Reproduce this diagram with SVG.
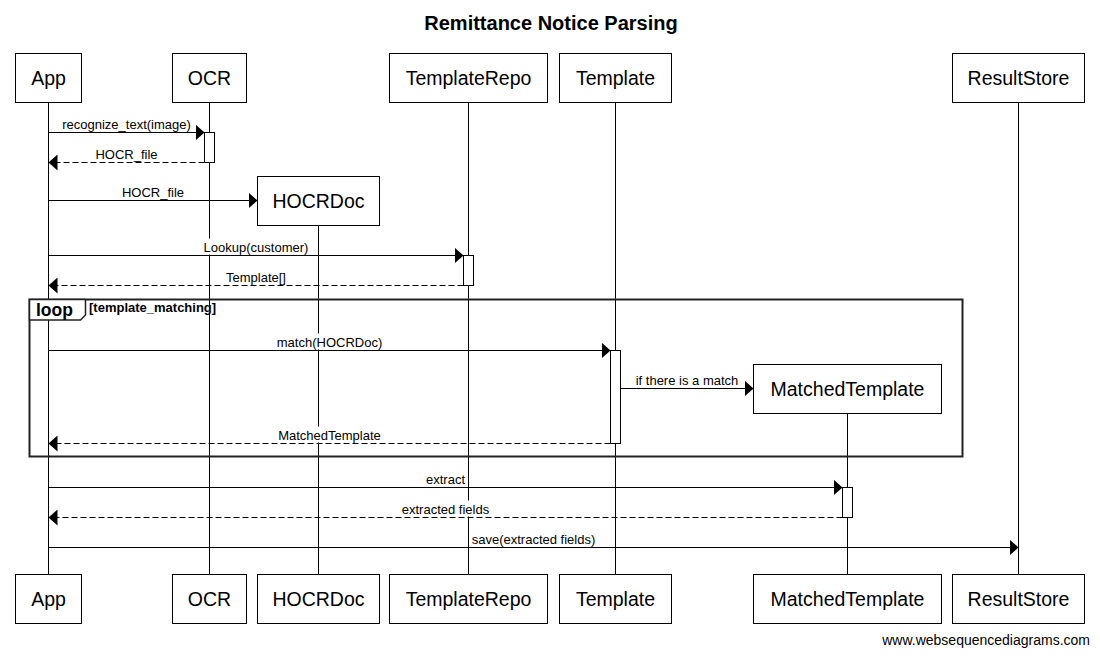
<svg xmlns="http://www.w3.org/2000/svg" width="1100" height="658" viewBox="0 0 1100 658">
<defs>
<marker id="ah" markerUnits="userSpaceOnUse" markerWidth="10" markerHeight="16" refX="9" refY="8" orient="auto"><path d="M0,0 L9,8 L0,16 Z" fill="#000"/></marker>
<style>
.box{fill:#fff;stroke:#000;stroke-width:1}
.pt{font-family:"Liberation Sans",Arial,sans-serif;font-size:19.5px;text-anchor:middle;fill:#000}
.life{stroke:#000;stroke-width:1}
.msg{stroke:#000;stroke-width:1;fill:none;marker-end:url(#ah)}
.ret{stroke:#000;stroke-width:1;fill:none;stroke-dasharray:6,3;marker-end:url(#ah)}
.lbl{font-family:"Liberation Sans",Arial,sans-serif;font-size:13px;text-anchor:middle;fill:#000}
.bg{fill:#fff}
.act{fill:#fff;stroke:#000;stroke-width:1}
</style>
</defs>
<rect width="1100" height="658" fill="#fff"/>
<text x="551" y="30" font-family="Liberation Sans,Arial,sans-serif" font-size="20" font-weight="bold" text-anchor="middle">Remittance Notice Parsing</text>

<g id="lifelines">
<line class="life" x1="48.5" y1="102.5" x2="48.5" y2="574.5"/>
<line class="life" x1="209.5" y1="102.5" x2="209.5" y2="574.5"/>
<line class="life" x1="318.5" y1="225.5" x2="318.5" y2="574.5"/>
<line class="life" x1="468.5" y1="102.5" x2="468.5" y2="574.5"/>
<line class="life" x1="615.5" y1="102.5" x2="615.5" y2="574.5"/>
<line class="life" x1="847.5" y1="413.5" x2="847.5" y2="574.5"/>
<line class="life" x1="1018.5" y1="102.5" x2="1018.5" y2="574.5"/>
</g>

<g id="loop">
<rect x="29.5" y="299.5" width="933" height="157" fill="none" stroke="#222" stroke-width="2"/>
<path d="M29.5,299.5 H85.5 V315 L80.5,320 H29.5 Z" fill="#fff" stroke="#222" stroke-width="1.5"/>
<text x="36" y="316" font-family="Liberation Sans,Arial,sans-serif" font-size="17.5" font-weight="bold">loop</text>
<text x="89" y="312" font-family="Liberation Sans,Arial,sans-serif" font-size="13" font-weight="bold">[template_matching]</text>
</g>

<g id="participant-App">
<rect class="box" x="15.5" y="53.5" width="66" height="49"/><text class="pt" x="48.5" y="85">App</text>
<rect class="box" x="15.5" y="574.5" width="66" height="49"/><text class="pt" x="48.5" y="606">App</text>
</g>
<g id="participant-OCR">
<rect class="box" x="172.5" y="53.5" width="74" height="49"/><text class="pt" x="209.5" y="85">OCR</text>
<rect class="box" x="172.5" y="574.5" width="74" height="49"/><text class="pt" x="209.5" y="606">OCR</text>
</g>
<g id="participant-HOCRDoc">
<rect class="box" x="257.5" y="176.5" width="122" height="49"/><text class="pt" x="318.5" y="208">HOCRDoc</text>
<rect class="box" x="257.5" y="574.5" width="122" height="49"/><text class="pt" x="318.5" y="606">HOCRDoc</text>
</g>
<g id="participant-TemplateRepo">
<rect class="box" x="389.5" y="53.5" width="158" height="49"/><text class="pt" x="468.5" y="85">TemplateRepo</text>
<rect class="box" x="389.5" y="574.5" width="158" height="49"/><text class="pt" x="468.5" y="606">TemplateRepo</text>
</g>
<g id="participant-Template">
<rect class="box" x="559.5" y="53.5" width="112" height="49"/><text class="pt" x="615.5" y="85">Template</text>
<rect class="box" x="559.5" y="574.5" width="112" height="49"/><text class="pt" x="615.5" y="606">Template</text>
</g>
<g id="participant-MatchedTemplate">
<rect class="box" x="753.5" y="364.5" width="188" height="49"/><text class="pt" x="847.5" y="396">MatchedTemplate</text>
<rect class="box" x="753.5" y="574.5" width="188" height="49"/><text class="pt" x="847.5" y="606">MatchedTemplate</text>
</g>
<g id="participant-ResultStore">
<rect class="box" x="952.5" y="53.5" width="132" height="49"/><text class="pt" x="1018.5" y="85">ResultStore</text>
<rect class="box" x="952.5" y="574.5" width="132" height="49"/><text class="pt" x="1018.5" y="606">ResultStore</text>
</g>

<g id="connectors">
<rect class="bg" x="203.5" y="238.5" width="106" height="16"/>
<rect class="bg" x="276.5" y="333.5" width="107" height="16"/>
<rect class="bg" x="277" y="426.5" width="106" height="16"/>
<rect class="bg" x="401" y="500.5" width="89" height="16"/>

<line class="msg" x1="48.5" y1="132.5" x2="204.5" y2="132.5"/>
<text class="lbl" x="126.5" y="128.5">recognize_text(image)</text>
<line class="ret" x1="204.5" y1="162.5" x2="48.5" y2="162.5"/>
<text class="lbl" x="126.5" y="158.5">HOCR_file</text>
<line class="msg" x1="48.5" y1="200.5" x2="257.5" y2="200.5"/>
<text class="lbl" x="153" y="196.5">HOCR_file</text>
<line class="msg" x1="48.5" y1="255.5" x2="463.5" y2="255.5"/>
<text class="lbl" x="256" y="251.5">Lookup(customer)</text>
<line class="ret" x1="463.5" y1="285.5" x2="48.5" y2="285.5"/>
<text class="lbl" x="256" y="281.5">Template[]</text>
<line class="msg" x1="48.5" y1="350.5" x2="610.5" y2="350.5"/>
<text class="lbl" x="329.5" y="346.5">match(HOCRDoc)</text>
<line class="msg" x1="620.5" y1="388.5" x2="753.5" y2="388.5"/>
<text class="lbl" x="687" y="384.5">if there is a match</text>
<line class="ret" x1="610.5" y1="443.5" x2="48.5" y2="443.5"/>
<text class="lbl" x="329.5" y="439.5">MatchedTemplate</text>
<line class="msg" x1="48.5" y1="487.5" x2="842.5" y2="487.5"/>
<text class="lbl" x="445.5" y="483.5">extract</text>
<line class="ret" x1="842.5" y1="517.5" x2="48.5" y2="517.5"/>
<text class="lbl" x="445.5" y="513.5">extracted fields</text>
<line class="msg" x1="48.5" y1="547.5" x2="1018.5" y2="547.5"/>
<text class="lbl" x="533.5" y="543.5">save(extracted fields)</text>
</g>

<g id="activations">
<rect class="act" x="204.5" y="132.5" width="10" height="30"/>
<rect class="act" x="463.5" y="255.5" width="10" height="30"/>
<rect class="act" x="610.5" y="350.5" width="10" height="93"/>
<rect class="act" x="842.5" y="487.5" width="10" height="30"/>
</g>

<text x="1090" y="645" font-family="Liberation Sans,Arial,sans-serif" font-size="14" text-anchor="end">www.websequencediagrams.com</text>
</svg>
